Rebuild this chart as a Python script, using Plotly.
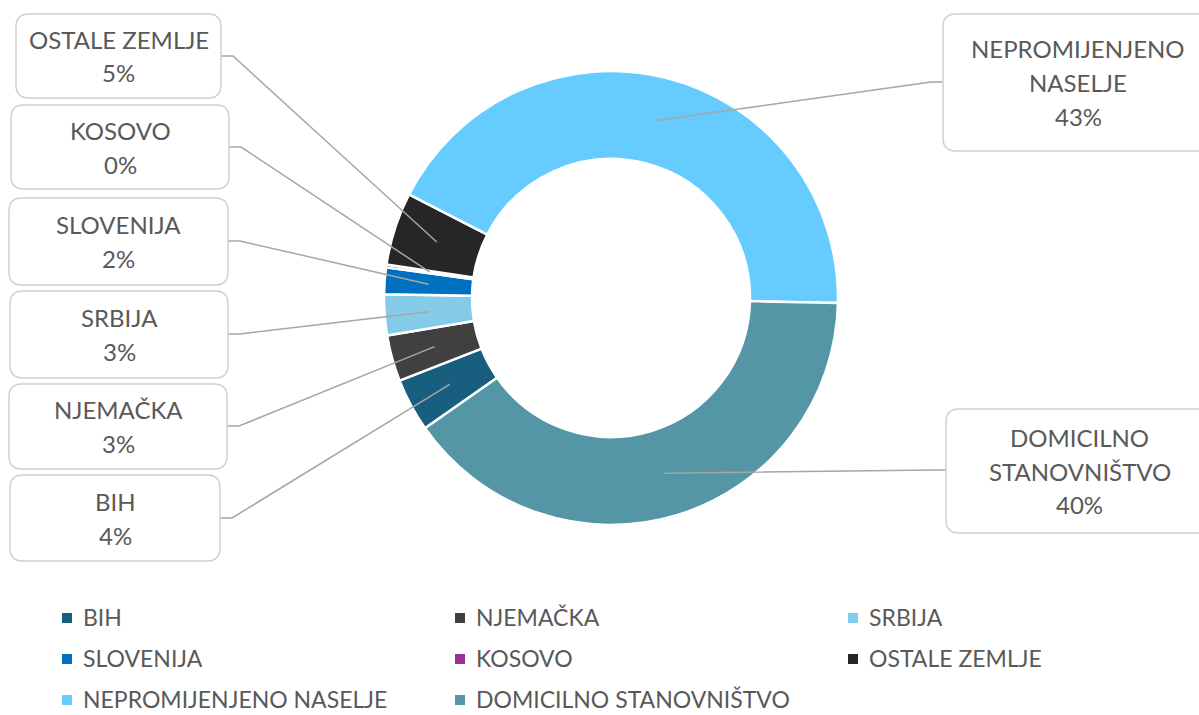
import math
import plotly.graph_objects as go

# data
labels = ["BIH", "NJEMAČKA", "SRBIJA", "SLOVENIJA", "KOSOVO",
          "OSTALE ZEMLJE", "NEPROMIJENJENO NASELJE", "DOMICILNO STANOVNIŠTVO"]
box_lines = [["BIH"], ["NJEMAČKA"], ["SRBIJA"], ["SLOVENIJA"], ["KOSOVO"],
             ["OSTALE ZEMLJE"], ["NEPROMIJENJENO", "NASELJE"], ["DOMICILNO", "STANOVNIŠTVO"]]
values = [3.8, 3.3, 2.9, 1.9, 0.2, 5.2, 42.9, 40.0]
colors = ["#175E7F", "#404040", "#84CBEA", "#0070C0", "#9E3099",
          "#262626", "#66CCFF", "#5496A6"]

W, H = 1199, 715
FONT = "Lato"
TXT = "#595959"

# donut geometry (pixels)
cx, cy, r_out, r_in = 611, 298, 227, 139
rotation = 235


def px(x):
    return x / W


def py(y):
    return 1 - y / H


fig = go.Figure()
fig.add_trace(
    go.Pie(
        labels=labels,
        values=values,
        hole=r_in / r_out,
        sort=False,
        direction="clockwise",
        rotation=rotation,
        marker=dict(colors=colors, line=dict(color="white", width=2.5)),
        textinfo="none",
        showlegend=False,
        domain=dict(x=[px(cx - r_out), px(cx + r_out)], y=[py(cy + r_out), py(cy - r_out)]),
    )
)

# label boxes: x0, y0, x1, y1, side the leader leaves from
boxes = [
    (10, 475, 220, 561, "right"),
    (9, 384, 227, 469, "right"),
    (10, 291, 228, 378, "right"),
    (9, 198, 228, 285, "right"),
    (11, 105, 229, 189, "right"),
    (16, 14, 221, 98, "right"),
    (943, 14, 1230, 151, "left"),
    (946, 409, 1230, 533, "left"),
]
leader_y = [518, 426, 334, 241, 147, 56, 82, 470]


def rounded(x0, y0, x1, y1, r=13):
    p = [
        (x0 + r, y0), (x1 - r, y0), (x1, y0), (x1, y0 + r), (x1, y1 - r), (x1, y1),
        (x1 - r, y1), (x0 + r, y1), (x0, y1), (x0, y1 - r), (x0, y0 + r), (x0, y0),
    ]
    q = [(px(a), py(b)) for a, b in p]
    s = f"M {q[0][0]},{q[0][1]} L {q[1][0]},{q[1][1]} Q {q[2][0]},{q[2][1]} {q[3][0]},{q[3][1]} "
    s += f"L {q[4][0]},{q[4][1]} Q {q[5][0]},{q[5][1]} {q[6][0]},{q[6][1]} "
    s += f"L {q[7][0]},{q[7][1]} Q {q[8][0]},{q[8][1]} {q[9][0]},{q[9][1]} "
    s += f"L {q[10][0]},{q[10][1]} Q {q[11][0]},{q[11][1]} {q[0][0]},{q[0][1]} Z"
    return s


total = sum(values)
shapes = []
annotations = []
cum = 0
r_mid = (r_out + r_in) / 2
for i, v in enumerate(values):
    mid = math.radians(rotation + 360 * (cum + v / 2) / total)
    cum += v
    ax = cx + r_mid * math.sin(mid)
    ay = cy - r_mid * math.cos(mid)
    x0, y0, x1, y1, side = boxes[i]
    ly = leader_y[i]
    if side == "right":
        bx, ex = x1, x1 + 12
    else:
        bx, ex = x0, x0 - 12
    if abs(ay - ly) < 3:
        ex = bx
    shapes.append(dict(
        type="path", xref="paper", yref="paper",
        path=f"M {px(bx)},{py(ly)} L {px(ex)},{py(ly)} L {px(ax)},{py(ay)}",
        line=dict(color="#A6A6A6", width=1.5),
    ))
    shapes.append(dict(
        type="path", xref="paper", yref="paper", path=rounded(x0, y0, x1, y1),
        line=dict(color="#D0D0D0", width=1.5), fillcolor="white",
    ))
    pct = round(v / total * 100)
    lines = box_lines[i] + [f"{pct}%"]
    tx = (x0 + 1213) / 2 if side == "left" else (x0 + x1) / 2
    yc = (y0 + y1) / 2
    for k, t in enumerate(lines):
        annotations.append(dict(
            x=px(tx), y=py(yc + (k - (len(lines) - 1) / 2) * 34),
            xref="paper", yref="paper",
            text=t, showarrow=False, xanchor="center", yanchor="middle",
            font=dict(family=FONT, size=24, color=TXT),
        ))

# legend built by hand, three columns
for i, name in enumerate(labels):
    row, col = divmod(i, 3)
    lx = 62 + col * 393
    ly = 618 + row * 41
    shapes.append(dict(
        type="rect", xref="paper", yref="paper",
        x0=px(lx), x1=px(lx + 10), y0=py(ly - 5), y1=py(ly + 5),
        fillcolor=colors[i], line=dict(width=0),
    ))
    annotations.append(dict(
        x=px(lx + 20), y=py(ly - 1), xref="paper", yref="paper",
        text=name, showarrow=False, xanchor="left", yanchor="middle",
        borderpad=0, font=dict(family=FONT, size=23, color=TXT),
    ))

fig.update_layout(
    width=W,
    height=H,
    margin=dict(l=0, r=0, t=0, b=0),
    paper_bgcolor="white",
    plot_bgcolor="white",
    shapes=shapes,
    annotations=annotations,
)

fig.write_html("out.html", config={"displayModeBar": False},
               post_script="document.body.style.margin='0px';")
